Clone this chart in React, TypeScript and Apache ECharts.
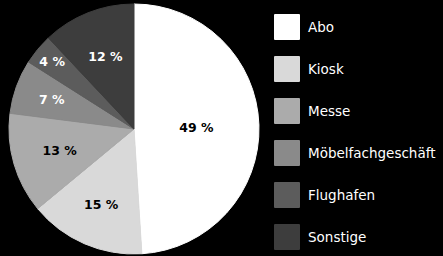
import React, { useEffect, useRef } from "react";
import * as echarts from "echarts";

const categories = ["Abo", "Kiosk", "Messe", "Möbelfachgeschäft", "Flughafen", "Sonstige"];
const values = [49, 15, 13, 7, 4, 12];
const colors = ["#ffffff", "#d9d9d9", "#ababab", "#8a8a8a", "#5c5c5c", "#3d3d3d"];
const labelColors = ["#000000", "#000000", "#000000", "#ffffff", "#ffffff", "#ffffff"];
const labelRadiusRatio = [0.5, 0.66, 0.62, 0.7, 0.85, 0.62];

const CX = 134;
const CY = 129;
const R = 125;

export default function App() {
  const ref = useRef<HTMLDivElement>(null);
  useEffect(() => {
    document.body.style.margin = "0";
    document.body.style.background = "#000";
    const chart = echarts.init(ref.current!, null, { renderer: "svg" });
    const total = values.reduce((a, b) => a + b, 0);
    const mids: number[] = [];
    let cum = 0;
    values.forEach((v) => {
      mids.push(((cum + v / 2) / total) * Math.PI * 2);
      cum += v;
    });
    chart.setOption({
      animation: false,
      backgroundColor: "#000000",
      legend: {
        orient: "vertical",
        left: 274,
        top: 14,
        height: 300,
        width: 169,
        itemWidth: 24,
        itemHeight: 24,
        itemGap: 16,
        padding: 0,
        icon: "rect",
        selectedMode: false,
        data: categories,
        textStyle: {
          color: "#ffffff",
          fontSize: 13.5,
          fontFamily: "DejaVu Sans",
          padding: [0, 0, 0, 4],
        },
      },
      series: [
        {
          type: "pie",
          center: [CX, CY],
          radius: [0, R],
          startAngle: 90,
          clockwise: true,
          avoidLabelOverlap: false,
          label: {
            show: true,
            position: "inside",
            formatter: "{c} %",
            fontSize: 12.5,
            fontWeight: "bold",
            fontFamily: "DejaVu Sans",
          },
          labelLine: { show: false },
          labelLayout: (params: any) => {
            const i = params.dataIndex;
            const a = mids[i];
            const r = R * labelRadiusRatio[i];
            return {
              x: CX + r * Math.sin(a),
              y: CY - r * Math.cos(a),
              align: "center",
              verticalAlign: "middle",
            };
          },
          emphasis: { disabled: true },
          data: categories.map((name, i) => ({
            name,
            value: values[i],
            itemStyle: { color: colors[i], borderColor: colors[i], borderWidth: 1 },
            label: { color: labelColors[i] },
          })),
        },
      ],
    });
    return () => chart.dispose();
  }, []);
  return <div ref={ref} style={{ width: 443, height: 256 }} />;
}
